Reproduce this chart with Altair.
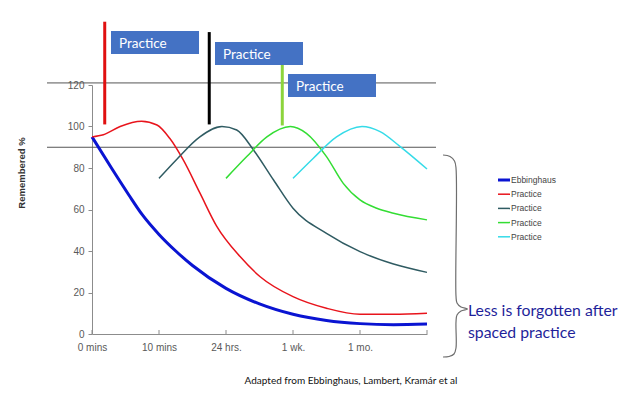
import altair as alt
import pandas as pd

W, H = 335, 249

# ---------------- data ----------------
x_ticks = [0, 1, 2, 3, 4, 5]
x_labels = ["0 mins", "10 mins", "24 hrs.", "1 wk.", "1 mo.", ""]
y_ticks = [0, 20, 40, 60, 80, 100, 120]

series_names = ["Ebbinghaus", "Practice", "Practice", "Practice", "Practice"]
series_colors = ["#0a14d2", "#e8141c", "#2f5b62", "#33dd33", "#35dbe8"]
series_widths = [3, 1.5, 1.5, 1.5, 1.5]

ebb_x = [0, 0.3, 0.55, 0.75, 1.0, 1.25, 1.5, 2.0, 2.5, 3.0, 3.5, 4.0, 4.5, 5.0]
ebb_y = [95, 79.5, 67, 57.5, 48, 40, 33, 22, 14.5, 9.5, 6.5, 5, 4.5, 4.8]

red_x = [0, 0.17, 0.42, 0.74, 0.97, 1.16, 1.36, 1.61, 1.86, 2.21, 2.51, 3.0, 3.5, 4.0, 4.5, 5.0]
red_y = [95, 96, 100, 102.5, 100.7, 94.3, 84, 68, 52, 37.3, 27.6, 18, 12.4, 9.5, 9.5, 10]

teal_x = [1.0, 1.26, 1.61, 1.94, 2.16, 2.41, 2.71, 3.0, 3.5, 4.0, 4.5, 5.0]
teal_y = [75, 84, 95, 100, 98.3, 88.7, 74.2, 60.6, 48.5, 39.7, 33.7, 29.7]

green_x = [2.0, 2.31, 2.61, 2.96, 3.2, 3.5, 3.75, 4.0, 4.25, 4.5, 5.0]
green_y = [75, 85.5, 95, 100, 96.7, 85.5, 72.6, 64.6, 60.6, 58.2, 55]

cyan_x = [3.0, 3.3, 3.65, 4.03, 4.3, 4.6, 5.0]
cyan_y = [75, 84.6, 95, 100, 97.5, 90.3, 79.5]

all_x = [ebb_x, red_x, teal_x, green_x, cyan_x]
all_y = [ebb_y, red_y, teal_y, green_y, cyan_y]

ref_lines_y = [121, 90]

marker_x = [0.19, 1.75, 2.84]
marker_y_bottom = [101, 101, 100.5]
marker_y_top = [150.5, 145.5, 130]
marker_colors = ["#e01010", "#000000", "#8cd43c"]

box_label = ["Practice", "Practice", "Practice"]
box_left = [19, 123, 196]
box_top = [-54, -43, -11]
box_w, box_h = 88, 23

note_lines = ["Less is forgotten after", "spaced practice"]
caption = "Adapted from Ebbinghaus, Lambert, Kramár et al"

# brace path (page pixels)
brace_px = [443, 450, 454.5, 456, 456, 457, 461, 467.5, 461, 457, 456, 456, 454, 449, 443]
brace_py = [155, 156.5, 161, 168, 296, 303, 307, 309, 311, 315, 322, 348, 354, 356.5, 357]

# ---------------- tables ----------------
rows = []
for i, (xs, ys) in enumerate(zip(all_x, all_y)):
    for x, y in zip(xs, ys):
        rows.append(dict(s=i, x=x, y=y, color=series_colors[i], w=series_widths[i]))
curves = pd.DataFrame(rows)

ox, oy = 92, 85  # plot origin on page

xscale = alt.Scale(domain=[0, 5], nice=False, zero=False)
yscale = alt.Scale(domain=[0, 120], nice=False)
label_arr = "[" + ",".join("'" + l + "'" for l in x_labels) + "]"
xaxis = alt.Axis(values=x_ticks, labelExpr=label_arr + "[datum.value]", ticks=False,
                 grid=False, title=None, labelFlush=False, labelPadding=8,
                 domainColor="#8c8c8c", labelColor="#595959", labelFontSize=10,
                 labelFont="Liberation Sans")
yaxis = alt.Axis(values=y_ticks, grid=False, title=None, tickSize=4, tickColor="#8c8c8c",
                 domainColor="#8c8c8c", labelColor="#595959", labelFontSize=10,
                 labelFont="Liberation Sans", labelPadding=4)

X = alt.X("x:Q", scale=xscale, axis=xaxis)
Y = alt.Y("y:Q", scale=yscale, axis=yaxis)

# horizontal reference lines
ref = alt.Chart(pd.DataFrame({"y": ref_lines_y})).mark_rule(color="#555555", strokeWidth=1).encode(
    x=alt.value(-45), x2=alt.value(344), y=Y)

# x ticks pointing inward
xt = alt.Chart(pd.DataFrame({"x": x_ticks})).mark_rule(color="#8c8c8c").encode(
    x=X, y=alt.value(H - 4), y2=alt.value(H))

lines = alt.Chart(curves).mark_line(interpolate="monotone").encode(
    x=X, y=Y, detail="s:N",
    color=alt.Color("color:N", scale=None),
    strokeWidth=alt.StrokeWidth("w:Q", scale=None))

markers = alt.Chart(pd.DataFrame({"x": marker_x, "y": marker_y_bottom, "y2": marker_y_top,
                                  "color": marker_colors})).mark_rule(strokeWidth=3).encode(
    x=X, y=Y, y2="y2:Q", color=alt.Color("color:N", scale=None))

boxes_df = pd.DataFrame({"bx": box_left, "by": box_top, "label": box_label})
boxes_df["bx2"] = boxes_df["bx"] + box_w
boxes_df["by2"] = boxes_df["by"] + box_h
boxes_df["tx"] = boxes_df["bx"] + 8
boxes_df["ty"] = boxes_df["by"] + box_h / 2 + 1

boxes = alt.Chart(boxes_df).mark_rect(color="#4472c4").encode(
    x=alt.X("bx:Q", scale=None, axis=None), x2="bx2:Q",
    y=alt.Y("by:Q", scale=None, axis=None), y2="by2:Q")
box_text = alt.Chart(boxes_df).mark_text(align="left", baseline="middle", color="white",
                                         font="Lato", fontSize=13.5).encode(
    x=alt.X("tx:Q", scale=None, axis=None), y=alt.Y("ty:Q", scale=None, axis=None), text="label:N")

# legend
leg = pd.DataFrame({"name": series_names, "color": series_colors, "w": series_widths})
leg["ly"] = [95 + i * 14.2 for i in range(len(leg))]
leg_lines = alt.Chart(leg).mark_rule().encode(
    x=alt.value(406), x2=alt.value(418), y=alt.Y("ly:Q", scale=None, axis=None),
    color=alt.Color("color:N", scale=None), strokeWidth=alt.StrokeWidth("w:Q", scale=None))
leg_text = alt.Chart(leg).mark_text(align="left", baseline="middle", font="Liberation Sans",
                                    fontSize=8.5, color="#444444").encode(
    x=alt.value(419), y=alt.Y("ly:Q", scale=None, axis=None), text="name:N")

# brace
brace_df = pd.DataFrame({"bx": [p - ox for p in brace_px], "by": [p - oy for p in brace_py],
                         "o": list(range(len(brace_px)))})
brace = alt.Chart(brace_df).mark_line(interpolate="catmull-rom", color="#6e6e6e", strokeWidth=1.2).encode(
    x=alt.X("bx:Q", scale=None, axis=None), y=alt.Y("by:Q", scale=None, axis=None), order="o:Q")

note_df = pd.DataFrame({"t": note_lines, "ny": [230.7, 252.7]})
note = alt.Chart(note_df).mark_text(align="left", baseline="alphabetic", font="Lato",
                                    fontSize=15.8, color="#1f1f9a").encode(
    x=alt.value(376), y=alt.Y("ny:Q", scale=None, axis=None), text="t:N")

cap = alt.Chart(pd.DataFrame({"t": [caption]})).mark_text(
    align="center", baseline="middle", font="Lato", fontSize=10, color="#111111").encode(
    x=alt.value(259), y=alt.value(296), text="t:N")

ytitle = alt.Chart(pd.DataFrame({"t": ["Remembered %"]})).mark_text(
    angle=270, align="center", baseline="middle", font="Liberation Sans", fontSize=9.5,
    fontWeight="bold", color="#333333").encode(
    x=alt.value(-70), y=alt.value(88), text="t:N")

chart = alt.layer(ref, xt, lines, markers, boxes, box_text, leg_lines, leg_text, brace, note, cap, ytitle).properties(
    width=W, height=H,
    padding={"left": 84, "top": 77, "right": 191, "bottom": 56},
    autosize=alt.AutoSizeParams(type="none"),
    background="white",
).configure_view(stroke=None)

chart.save("out.html", embed_options={"renderer": "svg", "actions": False})
